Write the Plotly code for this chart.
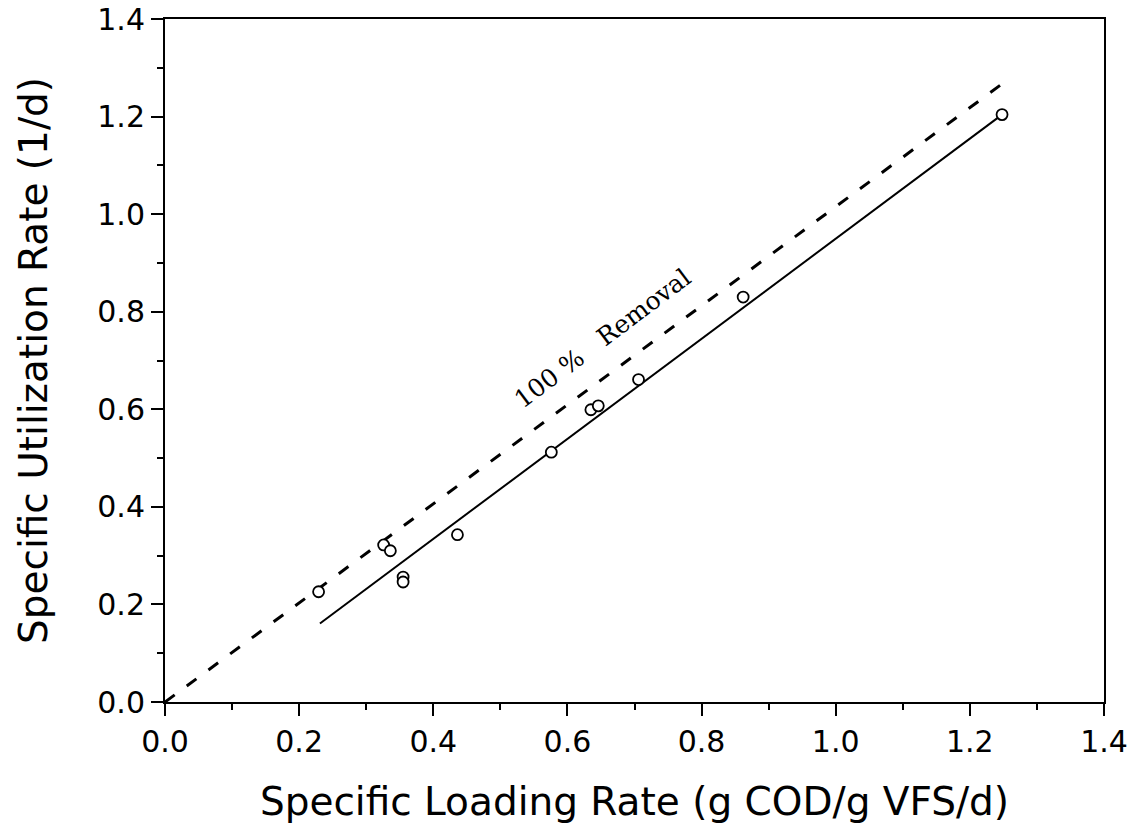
import plotly.graph_objects as go

# ---- data ----
loading_rate = [0.229, 0.326, 0.336, 0.355, 0.355, 0.436, 0.576, 0.635, 0.646, 0.706, 0.862, 1.248]
utilization_rate = [0.226, 0.322, 0.310, 0.256, 0.246, 0.343, 0.512, 0.599, 0.607, 0.661, 0.830, 1.204]

removal_x = [0.0, 1.247]          # 100 % removal line
removal_y = [0.0, 1.266]

fit_x = [0.231, 1.248]            # fitted line
fit_y = [0.161, 1.204]

x_ticks = [0.0, 0.2, 0.4, 0.6, 0.8, 1.0, 1.2, 1.4]
y_ticks = [0.0, 0.2, 0.4, 0.6, 0.8, 1.0, 1.2, 1.4]

x_title = "Specific Loading Rate (g COD/g VFS/d)"
y_title = "Specific Utilization Rate (1/d)"
line_label = "100\u00a0%\u00a0\u00a0\u00a0Removal"

# ---- figure ----
fig = go.Figure()

fig.add_trace(go.Scatter(
    x=removal_x, y=removal_y, mode="lines",
    line=dict(color="black", width=3, dash="12px,15px"),
    showlegend=False, hoverinfo="skip"))

fig.add_trace(go.Scatter(
    x=fit_x, y=fit_y, mode="lines",
    line=dict(color="black", width=2),
    showlegend=False, hoverinfo="skip"))

fig.add_trace(go.Scatter(
    x=loading_rate, y=utilization_rate, mode="markers",
    marker=dict(symbol="circle", size=11, color="white",
                line=dict(color="black", width=1.8)),
    showlegend=False))

fig.add_annotation(
    x=0.652, y=0.746, xref="x", yref="y",
    text=line_label, showarrow=False, textangle=-37,
    font=dict(family="DejaVu Serif", size=25, color="black"))

tick_font = dict(family="DejaVu Sans", size=30, color="black")
title_font = dict(family="DejaVu Sans", size=39, color="black")

common = dict(
    showgrid=False, zeroline=False, automargin=False,
    showline=True, linecolor="black", linewidth=2, mirror=True,
    ticks="outside", ticklen=12, tickwidth=2, tickcolor="black",
    tickfont=tick_font, tickformat=".1f",
    minor=dict(ticks="outside", ticklen=6, tickwidth=2, tickcolor="black", dtick=0.1),
)

fig.update_xaxes(range=[0, 1.4], tickvals=x_ticks,
                 title=dict(text=x_title, font=title_font, standoff=30), **common)
fig.update_yaxes(range=[0, 1.4], tickvals=y_ticks,
                 title=dict(text=y_title, font=title_font, standoff=38), **common)

fig.update_layout(
    width=1144, height=830,
    margin=dict(l=165, r=40, t=19, b=128),
    paper_bgcolor="white", plot_bgcolor="white",
)

fig.write_html("out.html")
